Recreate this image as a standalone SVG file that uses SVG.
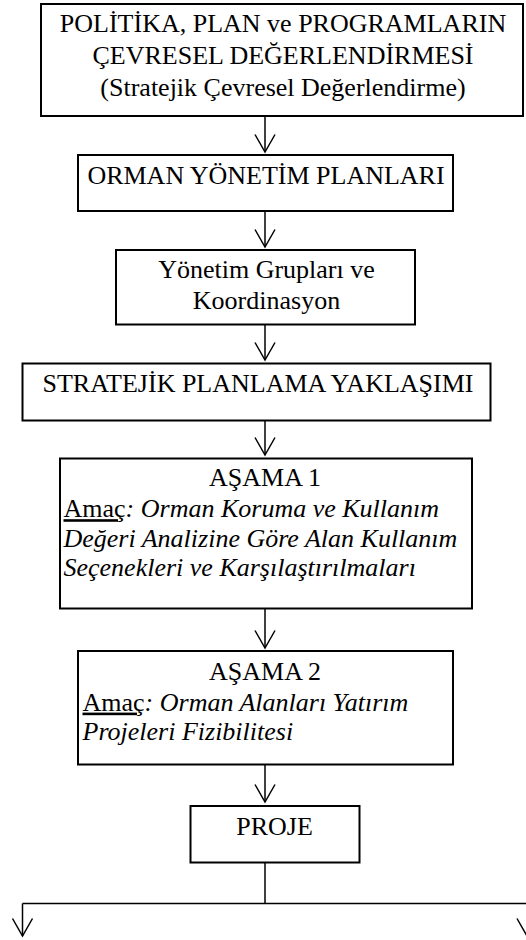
<svg xmlns="http://www.w3.org/2000/svg" width="526" height="940" viewBox="0 0 526 940">
<style>
.box{fill:#fff;stroke:#000;stroke-width:2}
.t{font-family:"Liberation Serif","Times New Roman",serif;font-size:26px;fill:#000}
.c{text-anchor:middle}
.i{font-style:italic}
.u{text-decoration:underline}
.ln{fill:none;stroke:#000;stroke-width:1.5}
</style>
<defs>
<marker id="ah" markerUnits="userSpaceOnUse" markerWidth="22" markerHeight="24" refX="18" refY="11" orient="auto" overflow="visible">
<path d="M0.5,1 L18,11 L0.5,21" fill="none" stroke="#000" stroke-width="1.5"/>
</marker>
</defs>
<rect width="526" height="940" fill="#fff"/>
<g id="connectors">
<line class="ln" x1="265" y1="117" x2="265" y2="152" marker-end="url(#ah)"/>
<line class="ln" x1="265" y1="212" x2="265" y2="247" marker-end="url(#ah)"/>
<line class="ln" x1="265" y1="325" x2="265" y2="360" marker-end="url(#ah)"/>
<line class="ln" x1="265" y1="421" x2="265" y2="455" marker-end="url(#ah)"/>
<line class="ln" x1="265" y1="609" x2="265" y2="648" marker-end="url(#ah)"/>
<line class="ln" x1="265" y1="765" x2="265" y2="802" marker-end="url(#ah)"/>
<line class="ln" x1="265" y1="863" x2="265" y2="903.5"/>
<line class="ln" x1="22.5" y1="903.5" x2="530" y2="903.5"/>
<line class="ln" x1="22.5" y1="903.5" x2="22.5" y2="936" marker-end="url(#ah)"/>
<line class="ln" x1="527" y1="903.5" x2="527" y2="936" marker-end="url(#ah)"/>
</g>
<g id="node1">
<rect class="box" x="41" y="4" width="482" height="112"/>
<text class="t c" x="283" y="32">POLİTİKA, PLAN ve PROGRAMLARIN</text>
<text class="t c" x="283" y="63.5">ÇEVRESEL DEĞERLENDİRMESİ</text>
<text class="t c" x="283" y="95.5">(Stratejik Çevresel Değerlendirme)</text>
</g>
<g id="node2">
<rect class="box" x="78" y="155" width="375" height="56"/>
<text class="t c" x="266" y="183.5">ORMAN YÖNETİM PLANLARI</text>
</g>
<g id="node3">
<rect class="box" x="116" y="250" width="299" height="74.5"/>
<text class="t c" x="266.5" y="277.5">Yönetim Grupları ve</text>
<text class="t c" x="266.5" y="308.7">Koordinasyon</text>
</g>
<g id="node4">
<rect class="box" x="22.5" y="363.5" width="468" height="57"/>
<text class="t c" x="258" y="391.5">STRATEJİK PLANLAMA YAKLAŞIMI</text>
</g>
<g id="node5">
<rect class="box" x="60" y="458.5" width="412" height="150"/>
<text class="t c" x="265" y="485.5">AŞAMA 1</text>
<text class="t" x="63.5" y="517.2"><tspan class="u">Amaç</tspan><tspan class="i">: Orman Koruma ve Kullanım</tspan></text>
<text class="t i" x="63.5" y="547.3">Değeri Analizine Göre Alan Kullanım</text>
<text class="t i" x="63.5" y="575.7">Seçenekleri ve Karşılaştırılmaları</text>
</g>
<g id="node6">
<rect class="box" x="78" y="651" width="375" height="113.5"/>
<text class="t c" x="265" y="680.4">AŞAMA 2</text>
<text class="t" x="82.5" y="710.6"><tspan class="u">Amaç</tspan><tspan class="i">: Orman Alanları Yatırım</tspan></text>
<text class="t i" x="82.5" y="740">Projeleri Fizibilitesi</text>
</g>
<g id="node7">
<rect class="box" x="190.5" y="806" width="169" height="56.5"/>
<text class="t c" x="274.5" y="834.6">PROJE</text>
</g>
</svg>
